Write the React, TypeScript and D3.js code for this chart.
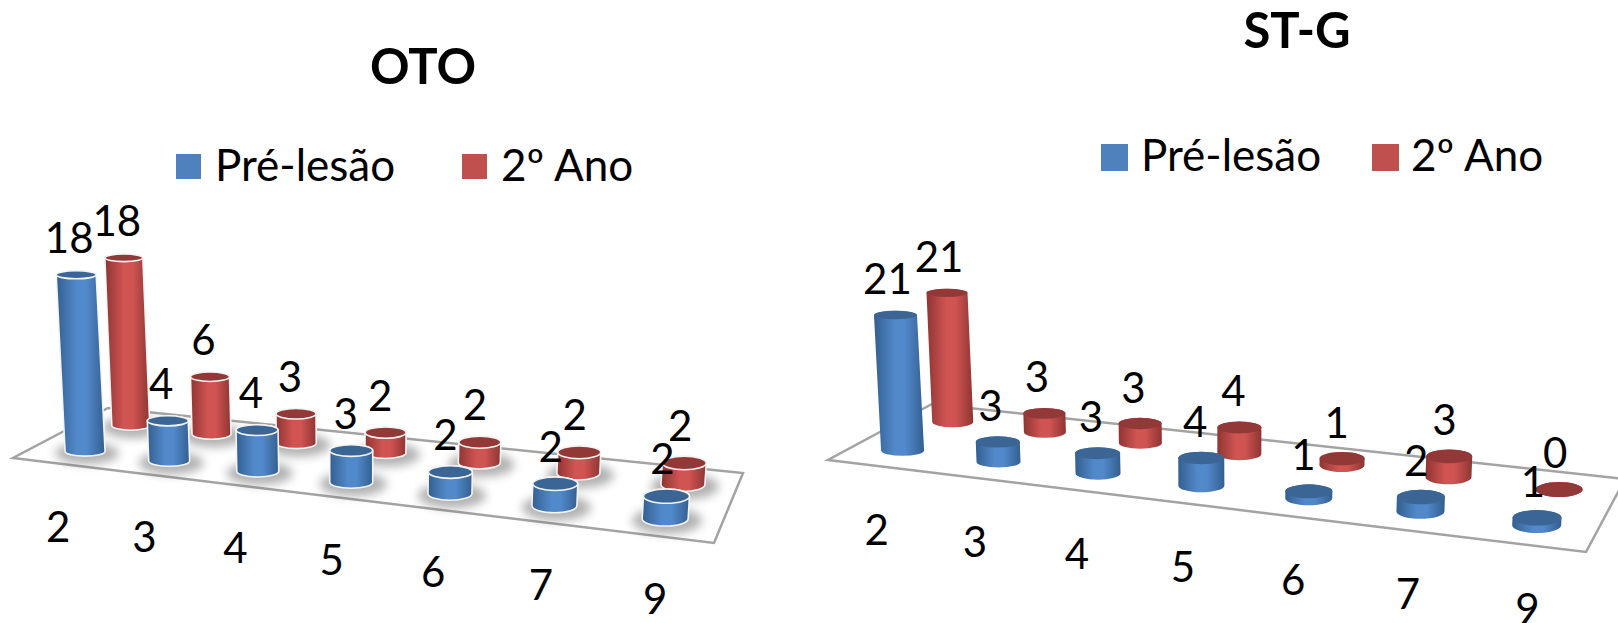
import React from "react";
import * as d3 from "d3";

const WIDTH = 1618;
const HEIGHT = 623;

const categories = ["2", "3", "4", "5", "6", "7", "9"];
const otoPreLesao = [18, 4, 4, 3, 2, 2, 2];
const otoSegundoAno = [18, 6, 3, 2, 2, 2, 2];
const stgPreLesao = [21, 3, 3, 4, 1, 2, 1];
const stgSegundoAno = [21, 3, 3, 4, 1, 3, 0];
const seriesNames = ["Pré-lesão", "2º Ano"];

type Pt = [number, number];

// Maps the unit square onto a quadrilateral: (0,0)=a, (1,0)=b, (1,1)=c, (0,1)=d.
function floorProjection(a: Pt, b: Pt, c: Pt, d: Pt) {
  const dx1 = b[0] - c[0];
  const dx2 = d[0] - c[0];
  const dx3 = a[0] - b[0] + c[0] - d[0];
  const dy1 = b[1] - c[1];
  const dy2 = d[1] - c[1];
  const dy3 = a[1] - b[1] + c[1] - d[1];
  const den = dx1 * dy2 - dx2 * dy1;
  const g = (dx3 * dy2 - dx2 * dy3) / den;
  const h = (dx1 * dy3 - dx3 * dy1) / den;
  const m11 = b[0] - a[0] + g * b[0];
  const m12 = d[0] - a[0] + h * d[0];
  const m21 = b[1] - a[1] + g * b[1];
  const m22 = d[1] - a[1] + h * d[1];
  return (u: number, v: number): Pt => {
    const w = g * u + h * v + 1;
    return [(m11 * u + m12 * v + a[0]) / w, (m21 * u + m22 * v + a[1]) / w];
  };
}

type Chart = {
  id: string;
  title: string;
  titlePos: Pt;
  series: number[][];
  floor: { frontLeft: Pt; frontRight: Pt; backRight: Pt; backLeft: Pt };
  bandRange: [number, number];
  depths: [number, number];
  radius: [number, number];
  unitPerRadius: number;
  squash: [number, number];
  lean: number;
  leanOrigin: number;
  beveled: boolean;
  labelShift: [number, number];
  labelRise: number;
  axisShiftX: [number, number];
  axisDrop: number;
  legendSwatches: [number, number];
  legendTexts: [number, number];
  legendTop: number;
  legendBaseline: number;
  swatch: number;
};

const charts: Chart[] = [
  {
    id: "oto",
    title: "OTO",
    titlePos: [423, 84],
    series: [otoPreLesao, otoSegundoAno],
    floor: { frontLeft: [13, 458], frontRight: [714, 543], backRight: [743, 473], backLeft: [108, 408] },
    bandRange: [0.014, 1.002],
    depths: [0.23, 0.73],
    radius: [20, 23],
    unitPerRadius: 0.49,
    squash: [0.25, 0.32],
    lean: 0.00019,
    leanOrigin: 350,
    beveled: true,
    labelShift: [-7, -4],
    labelRise: 22,
    axisShiftX: [-4, -1],
    axisDrop: 78,
    legendSwatches: [176, 462],
    legendTexts: [215, 501],
    legendTop: 154,
    legendBaseline: 181,
    swatch: 25,
  },
  {
    id: "stg",
    title: "ST-G",
    titlePos: [1297, 48],
    series: [stgPreLesao, stgSegundoAno],
    floor: { frontLeft: [828, 460], frontRight: [1586, 552], backRight: [1625, 479], backLeft: [932, 404] },
    bandRange: [0, 1],
    depths: [0.25, 0.75],
    radius: [21.5, 24.5],
    unitPerRadius: 0.3,
    squash: [0.25, 0.32],
    lean: 0.00016,
    leanOrigin: 1230,
    beveled: false,
    labelShift: [-8, -4],
    labelRise: 21,
    axisShiftX: [1, 3],
    axisDrop: 79,
    legendSwatches: [1101, 1372],
    legendTexts: [1141, 1411],
    legendTop: 144,
    legendBaseline: 171,
    swatch: 27,
  },
];

const palette = [
  { top: "#3b6594", edge: "#335f90", mid: "#5289cb", key: "#4f81bd" },
  { top: "#923937", edge: "#8e3533", mid: "#d05452", key: "#c0504d" },
];

function cylinder(chart: Chart, value: number, i: number, s: number, project: (u: number, v: number) => Pt) {
  const band = d3.scaleBand<string>().domain(categories).range(chart.bandRange);
  const u = (band(categories[i]) as number) + band.bandwidth() / 2;
  const t = d3.scaleLinear().domain([0, categories.length - 1]).range([0, 1])(i);
  const [bx, by] = project(u, chart.depths[s]);
  const rx = d3.scaleLinear().domain([0, 1]).range(chart.radius)(t) - s;
  const ratio = d3.scaleLinear().domain([0, 1]).range(chart.squash)(t);
  const ryBase = rx * ratio;
  const height = d3.scaleLinear().domain([0, 1]).range([0, rx * chart.unitPerRadius])(value);
  const tx = bx + height * (bx - chart.leanOrigin) * chart.lean;
  const ty = by - height;
  const ryTop = ryBase * (1 - Math.min(0.2, height / 700));
  const c = palette[s];
  const body = `M${bx - rx},${by}A${rx},${ryBase} 0 0 0 ${bx + rx},${by}L${tx + rx},${ty}A${rx},${ryTop} 0 0 0 ${tx - rx},${ty}Z`;
  const labelDx = d3.scaleLinear().domain([0, 1]).range(chart.labelShift)(t);
  return {
    shadow: chart.beveled ? (
      <ellipse key={`sh${s}${i}`} cx={bx + 2} cy={by + 2} rx={rx + 12} ry={ryBase + 6} fill="#555" opacity={0.45} filter={`url(#${chart.id}-soft)`} />
    ) : null,
    solid: (
      <g key={`c${s}${i}`}>
        <path d={body} fill={`url(#${chart.id}-grad${s})`} stroke={chart.beveled ? "#f4f4f4" : "none"} strokeWidth={1.6} />
        <ellipse cx={tx} cy={ty} rx={rx} ry={ryTop} fill={c.top} stroke={chart.beveled ? "#f4f4f4" : "none"} strokeWidth={1.6} />
      </g>
    ),
    label: (
      <text key={`l${s}${i}`} x={tx + labelDx} y={ty - chart.labelRise} textAnchor="middle" fontSize={42} fill="#000">
        {value}
      </text>
    ),
  };
}

function Panel({ chart }: { chart: Chart }) {
  const f = chart.floor;
  const project = floorProjection(f.frontLeft, f.frontRight, f.backRight, f.backLeft);
  const band = d3.scaleBand<string>().domain(categories).range(chart.bandRange);
  const spread = d3.scaleLinear().domain([0, categories.length - 1]).range(chart.axisShiftX);
  const outline = d3.line()([f.frontLeft, f.frontRight, f.backRight, f.backLeft]) + "Z";
  // Rows are painted back to front so the nearer cylinders overlap the farther ones.
  const backRow = chart.series[1].map((value, i) => cylinder(chart, value, i, 1, project));
  const frontRow = chart.series[0].map((value, i) => cylinder(chart, value, i, 0, project));
  const all = [...backRow, ...frontRow];
  return (
    <g>
      <defs>
        {palette.map((c, s) => (
          <linearGradient key={s} id={`${chart.id}-grad${s}`} x1="0" x2="1" y1="0" y2="0">
            <stop offset="0" stopColor={c.edge} />
            <stop offset="0.42" stopColor={c.mid} />
            <stop offset="0.62" stopColor={c.mid} />
            <stop offset="1" stopColor={c.edge} />
          </linearGradient>
        ))}
        <filter id={`${chart.id}-soft`} x="-40%" y="-80%" width="180%" height="260%">
          <feGaussianBlur stdDeviation="5" />
        </filter>
      </defs>
      <text x={chart.titlePos[0]} y={chart.titlePos[1]} textAnchor="middle" fontWeight={700} fontSize={49} fill="#000">
        {chart.title}
      </text>
      {seriesNames.map((name, s) => (
        <g key={name}>
          <rect x={chart.legendSwatches[s]} y={chart.legendTop} width={chart.swatch} height={chart.swatch} fill={palette[s].key} />
          <text x={chart.legendTexts[s]} y={chart.legendBaseline} fontSize={44} fill="#000">
            {name}
          </text>
        </g>
      ))}
      <path d={outline} fill="#fff" stroke="#a3a3a3" strokeWidth={2.5} strokeLinejoin="miter" />
      {all.map((c) => c.shadow)}
      {all.map((c) => c.solid)}
      {all.map((c) => c.label)}
      {categories.map((cat, i) => {
        const u = (band(cat) as number) + band.bandwidth() / 2;
        const [x, y] = project(u, 0);
        return (
          <text key={cat} x={x + spread(i)} y={y + chart.axisDrop} textAnchor="middle" fontSize={42} fill="#000">
            {cat}
          </text>
        );
      })}
    </g>
  );
}

export default function App() {
  return (
    <svg
      width={WIDTH}
      height={HEIGHT}
      viewBox={`0 0 ${WIDTH} ${HEIGHT}`}
      style={{ position: "absolute", left: 0, top: 0, display: "block", background: "#fff" }}
      fontFamily="Lato, 'Open Sans', sans-serif"
    >
      {charts.map((chart) => (
        <Panel key={chart.id} chart={chart} />
      ))}
    </svg>
  );
}
